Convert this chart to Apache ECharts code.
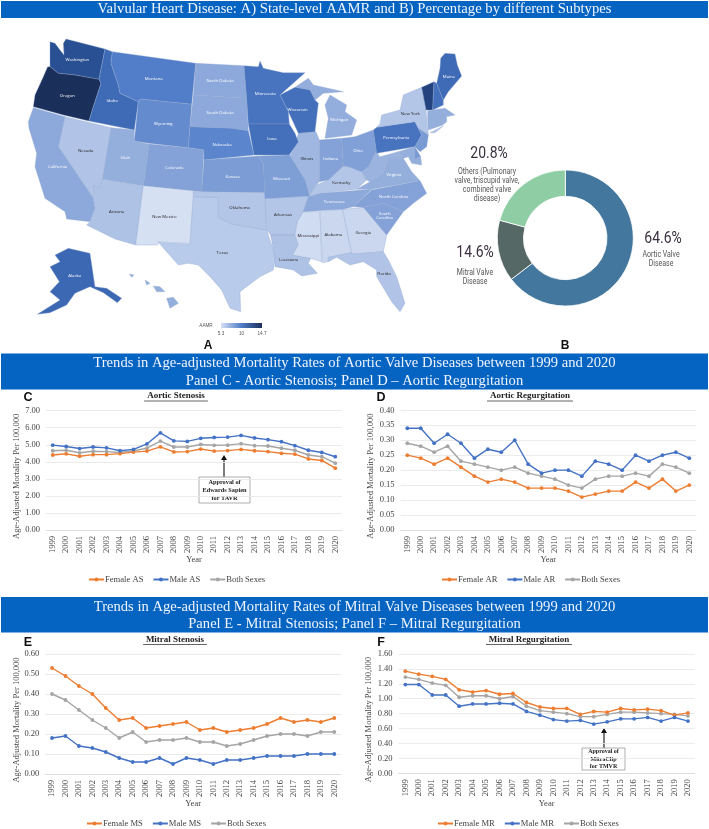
<!DOCTYPE html>
<html><head><meta charset="utf-8">
<script src="https://cdn.jsdelivr.net/npm/echarts@6/dist/echarts.min.js"></script>
<style>html,body{margin:0;padding:0;background:#fff}#c{width:709px;height:829px}</style>
</head><body><div id="c"></div>
<script>
const years = ['1999','2000','2001','2002','2003','2004','2005','2006','2007','2008','2009','2010','2011','2012','2013','2014','2015','2016','2017','2018','2019','2020'];
const femaleAS = [4.40,4.47,4.33,4.42,4.42,4.48,4.57,4.63,4.88,4.58,4.60,4.75,4.63,4.66,4.73,4.65,4.60,4.50,4.45,4.17,4.08,3.63];
const maleAS   = [4.98,4.90,4.78,4.87,4.82,4.65,4.73,5.05,5.70,5.23,5.20,5.38,5.43,5.45,5.55,5.40,5.30,5.18,4.95,4.68,4.55,4.30];
const bothAS   = [4.65,4.68,4.53,4.62,4.60,4.55,4.65,4.80,5.22,4.87,4.87,5.02,4.97,4.98,5.07,4.95,4.93,4.80,4.68,4.40,4.30,3.92];
const femaleAR = [.25,.24,.22,.24,.21,.18,.16,.17,.16,.14,.14,.14,.13,.11,.12,.13,.13,.16,.14,.17,.13,.15];
const maleAR   = [.34,.34,.29,.32,.29,.24,.27,.26,.30,.22,.19,.20,.20,.18,.23,.22,.20,.25,.23,.25,.26,.24];
const bothAR   = [.29,.28,.26,.28,.23,.22,.21,.20,.21,.19,.18,.17,.15,.14,.17,.18,.18,.19,.18,.22,.21,.19];
const femaleMS = [.53,.49,.44,.40,.33,.27,.28,.23,.24,.25,.26,.22,.23,.21,.22,.23,.25,.28,.26,.27,.26,.28];
const maleMS   = [.18,.19,.14,.13,.11,.08,.06,.06,.08,.05,.08,.07,.05,.07,.07,.08,.09,.09,.09,.10,.10,.10];
const bothMS   = [.40,.37,.32,.27,.23,.18,.21,.16,.17,.17,.18,.16,.16,.14,.15,.17,.19,.20,.20,.19,.21,.21];
const femaleMR = [1.37,1.33,1.30,1.26,1.12,1.09,1.11,1.06,1.07,.95,.89,.87,.87,.79,.83,.82,.87,.85,.86,.84,.78,.81];
const maleMR   = [1.19,1.19,1.05,1.05,.90,.93,.93,.94,.93,.83,.78,.72,.70,.71,.66,.69,.73,.73,.75,.70,.75,.70];
const bothMR   = [1.29,1.26,1.21,1.18,1.02,1.04,1.04,1.00,1.03,.90,.84,.82,.80,.76,.76,.79,.82,.82,.81,.80,.79,.77];
const subtypeNames = ['Aortic Valve Disease','Mitral Valve Disease','Others'];
const subtypeValues = [64.6,14.6,20.8];
const stateNames = ['Oregon','Vermont','Washington','Maine','Idaho','Alaska','Wisconsin','Iowa','Minnesota','Pennsylvania','New Hampshire','Montana','Wyoming','Nebraska','Kansas','Missouri','North Dakota','South Dakota','Michigan','Colorado','Utah','California','Indiana','Ohio','Illinois','North Carolina','South Carolina','Tennessee','Virginia','West Virginia','Kentucky','Nevada','Arizona','New Mexico','Texas','Oklahoma','Arkansas','Louisiana','Mississippi','Alabama','Georgia','Florida','New York','New Jersey','Maryland','Delaware','Massachusetts','Connecticut','Rhode Island','Hawaii'];
const stateValues = [14.7,13.6,12.9,11.2,11.2,11.4,10.9,10.9,10.6,10.6,10.8,9.9,9.3,9.6,8.5,8.4,7.9,7.9,7.7,8.2,7.6,7.9,8.2,8.3,7.2,8.2,8.2,7.9,7.6,7.4,6.5,6.6,6.7,5.3,6.3,6.5,6.5,6.7,5.5,5.7,5.7,6.6,6.5,8.6,7.6,8.6,7.6,7.6,7.6,7.6];
const unlabelled = ['Vermont','New Hampshire','West Virginia','New Jersey','Maryland','Delaware','Massachusetts','Connecticut','Rhode Island','Hawaii'];

// State outlines, traced; map-space rings and label anchor
const outlines = {
Washington:[[[[150,125],[165,130],[180,150],[192,165],[190,130],[198,117],[315,147],[297,238],[225,225],[175,220],[150,200]]],[232,180]],
Oregon:[[[[150,200],[175,220],[225,225],[297,238],[303,250],[280,320],[267,363],[190,345],[100,320],[105,285],[130,230],[143,200]]],[202,286]],
Idaho:[[[[315,147],[337,155],[333,190],[355,255],[360,280],[415,305],[403,390],[267,363],[280,320],[303,250],[297,238]]],[337,302]],
Montana:[[[[337,155],[587,190],[575,313],[420,297],[415,305],[360,280],[355,255],[333,190]]],[461,237]],
Wyoming:[[[[420,297],[575,313],[565,443],[447,430],[403,423],[415,305]]],[490,372]],
'North Dakota':[[[[587,190],[732,197],[740,295],[580,285]]],[660,243]],
'South Dakota':[[[[580,285],[740,295],[745,392],[695,385],[570,380]]],[660,339]],
Nebraska:[[[[570,380],[695,385],[745,392],[762,465],[612,480],[612,450],[565,443]]],[666,433]],
Kansas:[[[[612,480],[775,468],[790,490],[795,578],[605,575]]],[698,531]],
Colorado:[[[[447,432],[565,443],[612,450],[605,575],[430,557]]],[523,504]],
Utah:[[[[333,383],[403,390],[403,423],[447,432],[430,557],[307,537]]],[376,474]],
Nevada:[[[[195,350],[333,383],[307,537],[297,565],[282,555],[280,595],[175,440]]],[257,451]],
California:[[[[100,323],[195,350],[175,440],[280,595],[285,625],[270,665],[200,657],[195,635],[135,595],[105,500],[110,460],[87,385],[85,365]]],[173,501]],
Arizona:[[[[307,537],[430,557],[407,735],[345,717],[260,675],[270,665],[285,625],[280,595],[282,555],[297,565]]],[350,634]],
'New Mexico':[[[[430,557],[605,575],[580,590],[570,730],[475,725],[473,735],[407,735]]],[493,649]],
Texas:[[[[580,590],[655,592],[655,652],[695,672],[740,680],[800,690],[820,750],[825,780],[820,810],[780,830],[720,875],[722,935],[690,925],[665,870],[630,830],[595,795],[565,790],[535,795],[475,727],[570,732]]],[667,757]],
Oklahoma:[[[[580,575],[795,578],[798,640],[800,690],[740,680],[695,672],[655,652],[655,592],[580,590]]],[719,624]],
Arkansas:[[[[795,596],[928,588],[910,635],[892,665],[885,705],[812,705],[800,690],[798,640]]],[849,645]],
Louisiana:[[[[812,705],[885,705],[895,735],[878,765],[932,775],[925,790],[952,820],[905,828],[880,810],[825,800],[825,780],[820,750]]],[866,779]],
Mississippi:[[[[910,635],[960,635],[965,785],[932,775],[878,765],[895,735],[885,705],[892,665]]],[925,707]],
Alabama:[[[[960,635],[1028,628],[1055,758],[985,772],[985,785],[967,788],[965,785]]],[1000,703]],
Georgia:[[[[1028,628],[1090,622],[1160,705],[1150,755],[1060,762],[1055,758]]],[1090,698]],
Florida:[[[[985,772],[1055,758],[1060,762],[1150,755],[1165,780],[1190,830],[1215,910],[1200,935],[1175,905],[1130,830],[1130,810],[1090,785],[1050,795],[1010,772],[985,785]]],[1152,820]],
'South Carolina':[[[[1090,622],[1150,610],[1210,635],[1160,705]]],[1154,648]],
'North Carolina':[[[[1060,620],[1115,570],[1260,542],[1280,580],[1240,610],[1210,635],[1150,610],[1090,622]]],[1181,589]],
Tennessee:[[[[910,635],[925,590],[960,580],[1115,568],[1060,620],[1028,628]]],[1003,604]],
Kentucky:[[[[925,590],[948,555],[985,540],[1030,498],[1045,500],[1085,515],[1100,540],[1070,568],[960,580]]],[1024,547]],
Virginia:[[[[1070,568],[1110,545],[1150,520],[1165,475],[1210,475],[1235,515],[1260,542],[1115,568]]],[1182,525]],
'West Virginia':[[[[1085,515],[1105,500],[1128,455],[1140,470],[1160,465],[1195,455],[1210,475],[1165,475],[1150,520],[1110,545],[1100,540]]],[1130,510]],
Ohio:[[[[1025,415],[1065,410],[1120,390],[1130,460],[1128,455],[1105,500],[1085,515],[1045,500],[1030,498]]],[1074,451]],
Indiana:[[[[958,420],[1025,415],[1030,498],[985,540],[958,545]]],[992,475]],
Illinois:[[[[895,400],[948,395],[958,420],[958,545],[948,555],[925,590],[915,540],[868,470],[885,440]]],[921,476]],
Michigan:[[[[990,285],[1040,315],[1035,335],[1070,360],[1055,405],[975,415],[985,355],[975,315]],[[885,262],[925,235],[940,255],[1030,275],[970,280],[945,300],[930,270]]],[1018,360]],
Wisconsin:[[[[840,285],[885,262],[930,270],[945,300],[955,310],[945,395],[895,400],[865,335]]],[893,330]],
Minnesota:[[[[732,197],[775,200],[780,183],[790,205],[850,218],[915,218],[840,285],[865,335],[868,372],[745,372],[740,295]]],[796,282]],
Iowa:[[[[745,372],[868,372],[885,400],[895,425],[885,440],[868,465],[762,465]]],[816,417]],
Missouri:[[[[775,468],[868,465],[915,540],[928,588],[795,596],[790,490]]],[845,535]],
Pennsylvania:[[[[1120,390],[1130,382],[1245,365],[1265,405],[1245,440],[1130,460]]],[1189,414]],
'New York':[[[[1140,372],[1145,345],[1200,330],[1210,285],[1265,262],[1278,330],[1283,385],[1285,405],[1255,385],[1245,365],[1130,382]],[[1290,398],[1330,378],[1305,398]]],[1231,341]],
Vermont:[[[[1265,262],[1302,245],[1298,330],[1278,330]]],[1280,290]],
'New Hampshire':[[[[1302,245],[1310,250],[1330,300],[1330,315],[1298,330]]],[1310,285]],
Maine:[[[[1322,175],[1335,160],[1365,162],[1372,195],[1385,228],[1345,275],[1330,300],[1310,250],[1320,205]]],[1347,229]],
Massachusetts:[[[[1283,332],[1335,325],[1365,345],[1330,352],[1283,355]]],[1310,340]],
Connecticut:[[[[1283,355],[1325,348],[1328,375],[1285,390]]],[1305,370]],
'Rhode Island':[[[[1325,348],[1340,352],[1340,365],[1328,375]]],[1332,362]],
'New Jersey':[[[[1255,385],[1285,405],[1280,440],[1260,455],[1245,440],[1265,405]]],[1265,420]],
Delaware:[[[[1245,440],[1262,470],[1245,478]]],[1250,462]],
Maryland:[[[[1195,455],[1245,440],[1245,478],[1262,470],[1265,495],[1235,490],[1225,470],[1210,475]]],[1225,465]],
Alaska:[[[[205,745],[270,760],[285,860],[320,865],[365,895],[352,908],[310,878],[270,860],[225,880],[200,915],[150,938],[112,943],[180,900],[150,875],[178,845],[150,800],[180,785],[165,765]]],[224,826]],
Hawaii:[[[[500,895],[520,892],[535,910],[510,925]],[[435,840],[450,850],[440,855]],[[460,858],[480,860],[495,875],[470,875]],[[388,822],[402,825],[395,832]]],[500,905]]
};
const features = Object.keys(outlines).map(n=>({type:'Feature',properties:{name:n,cp:[outlines[n][1][0],-outlines[n][1][1]]},
  geometry:{type:'MultiPolygon',coordinates:outlines[n][0].map(r=>[r.concat([r[0]]).map(p=>[p[0],-p[1]])])}}));
echarts.registerMap('usa',{type:'FeatureCollection',features});
const SCALE=1/3, bb={x0:85,x1:1385,y0:117,y1:943};

const blue='#0563c1', serif='"Liberation Serif","Times New Roman",serif', sans='"Liberation Sans",Arial,sans-serif', narrow='Roboto,sans-serif';
const panels=[
 {name:'Aortic Stenosis',tag:'AS',max:7,step:1,dec:2,f:femaleAS,m:maleAS,b:bothAS,left:46,right:342,top:410.7,bot:530,cx:176,ty:396,letter:'C',lx:28,ly:398,nameX:17,yearY:560,legY:581,legL:88},
 {name:'Aortic Regurgitation',tag:'AR',max:.4,step:.05,dec:2,f:femaleAR,m:maleAR,b:bothAR,left:400.6,right:696,top:410.3,bot:530,cx:530,ty:396,letter:'D',lx:381,ly:398,nameX:371,yearY:560,legY:581,legL:441},
 {name:'Mitral Stenosis',tag:'MS',max:.6,step:.1,dec:2,f:femaleMS,m:maleMS,b:bothMS,left:45.3,right:341,top:654,bot:774,cx:175,ty:639.5,letter:'E',lx:28,ly:643,nameX:17,yearY:804,legY:825,legL:86},
 {name:'Mitral Regurgitation',tag:'MR',max:1.6,step:.2,dec:2,f:femaleMR,m:maleMR,b:bothMR,left:398.6,right:694.7,top:654,bot:773.3,cx:529,ty:639.5,letter:'F',lx:381,ly:643,nameX:369,yearY:804,legY:825,legL:437}
];
const W=709;
const grid=[],xAxis=[],yAxis=[],series=[],legend=[],graphic=[];
function lbl(text,x,y,size,opt,extra){graphic.push(Object.assign({type:'text',x,y,silent:true,style:Object.assign({text,fontSize:size,fontFamily:serif,fill:'#444',align:'center',verticalAlign:'middle'},opt||{})},extra||{}));}
panels.forEach((p,i)=>{
 grid.push({left:p.left,width:p.right-p.left,top:p.top,height:p.bot-p.top});
 xAxis.push({gridIndex:i,type:'category',data:years,axisTick:{show:false},axisLine:{lineStyle:{color:'#d9d9d9',width:.8}},
   axisLabel:{rotate:90,interval:0,fontFamily:serif,fontSize:8.5,color:'#444',margin:6}});
 yAxis.push({gridIndex:i,type:'value',min:0,max:p.max,interval:p.step,axisLine:{show:false},axisTick:{show:false},
   splitLine:{lineStyle:{color:'#e6e6e6',width:.8}},
   axisLabel:{fontFamily:serif,fontSize:8.5,color:'#444',margin:6,formatter:v=>v.toFixed(p.dec)}});
 const names=['Female '+p.tag,'Male '+p.tag,'Both Sexes'];
 [[names[0],p.f,'#ed7d31'],[names[1],p.m,'#4472c4'],[names[2],p.b,'#a5a5a5']].forEach(s=>{
   series.push({type:'line',name:s[0],xAxisIndex:i,yAxisIndex:i,data:s[1],z:s[2]==='#a5a5a5'?2:3,symbol:'circle',symbolSize:3.8,showSymbol:true,
     lineStyle:{color:s[2],width:1.4},itemStyle:{color:s[2]},silent:true,animation:false});
 });
 legend.push({data:names,left:p.legL,top:p.legY-6,itemWidth:15,itemHeight:5,itemGap:9,selectedMode:false,
   textStyle:{fontFamily:serif,fontSize:8.6,color:'#444',padding:[0,0,0,-4]},padding:0});
 lbl(p.name,p.cx,p.ty,9,{fontWeight:'bold',fill:'#222'});
 const tw=p.name.length*4.05+ (p.tag[1]==='R'?5:3);
 graphic.push({type:'line',silent:true,shape:{x1:p.cx-tw/2,y1:p.ty+5,x2:p.cx+tw/2,y2:p.ty+5},style:{stroke:'#222',lineWidth:.7}});
 lbl('Age-Adjusted Mortality Per 100,000',p.nameX,(p.top+p.bot)/2+6,8.5,{},{rotation:Math.PI/2});
 lbl('Year',(p.left+p.right)/2,p.yearY,8.5,{});
 lbl(p.letter,p.lx,p.ly,12.5,{fontFamily:sans,fontWeight:'bold',fill:'#111'});
});
function bar(y,h,lines,sizes){graphic.push({type:'rect',silent:true,z:-1,shape:{x:1,y,width:W-2,height:h},style:{fill:blue}});
 lines.forEach((t,i)=>lbl(t,354.5,y+(h/lines.length)*(i+.5)+(lines.length>1?1:0),sizes,{fill:'#eef4fb'}));}
bar(1,17,['Valvular Heart Disease: A) State-level AAMR and B) Percentage by different Subtypes'],14.7);
bar(353.5,36,['Trends in Age-adjusted Mortality Rates of Aortic Valve Diseases between 1999 and 2020','Panel C - Aortic Stenosis; Panel D – Aortic Regurgitation'],14.6);
bar(597,35.5,['Trends in Age-adjusted Mortality Rates of Mitral Valve Diseases between 1999 and 2020','Panel E - Mitral Stenosis; Panel F – Mitral Regurgitation'],14.6);
lbl('A',208,346,12,{fontFamily:sans,fontWeight:'bold',fill:'#111'});
lbl('B',565,346,12,{fontFamily:sans,fontWeight:'bold',fill:'#111'});
function note(ax,y1,y2,bx0,bx1,by0,by1,txt,fs,lh){
 graphic.push({type:'line',silent:true,shape:{x1:ax,y1,x2:ax,y2:y2+3},style:{stroke:'#111',lineWidth:1.1}});
 graphic.push({type:'polygon',silent:true,shape:{points:[[ax,y2],[ax-3,y2+5],[ax+3,y2+5]]},style:{fill:'#111'}});
 graphic.push({type:'rect',silent:true,shape:{x:bx0,y:by0,width:bx1-bx0,height:by1-by0},style:{fill:'#fff',stroke:'#999',lineWidth:.8}});
 lbl(txt,(bx0+bx1)/2,(by0+by1)/2,fs,{fontWeight:'bold',fill:'#222',lineHeight:lh});
}
note(224,477,455,199,250,477,503,'Approval of\nEdwards Sapien\nfor TAVR',6.3,8);
note(604,748,728,582,625,748,770,'Approval of\nMitraClip\nfor TMVR',6,7.4);
const ink='#3a3040', ink2='#555', sq={scaleX:.82};
lbl('64.6%',663,239,17,{fontFamily:narrow,fill:ink},sq);
lbl('Aortic Valve\nDisease',661,259.5,8.5,{fontFamily:narrow,fill:ink2,lineHeight:9.3},sq);
lbl('14.6%',475,253,17,{fontFamily:narrow,fill:ink},sq);
lbl('Mitral Valve\nDisease',475,277.5,8.5,{fontFamily:narrow,fill:ink2,lineHeight:9.3},sq);
lbl('20.8%',489,154,17,{fontFamily:narrow,fill:ink},sq);
lbl('Others (Pulmonary\nvalve, triscupid valve,\ncombined valve\ndisease)',487,185.5,8.5,{fontFamily:narrow,fill:ink2,lineHeight:9},sq);
graphic.push({type:'rect',silent:true,shape:{x:221,y:323,width:41,height:5},style:{fill:new echarts.graphic.LinearGradient(0,0,1,0,[{offset:0,color:'#d5e0f3'},{offset:.5,color:'#4f7cc8'},{offset:1,color:'#1b2f5b'}])}});
lbl('AAMR',206,325.5,4.6,{fontFamily:sans,fill:'#555'});
lbl('5.3',221,334,4.6,{fontFamily:sans,fill:'#555'});
lbl('10',241.5,334,4.6,{fontFamily:sans,fill:'#555'});
lbl('14.7',262,334,4.6,{fontFamily:sans,fill:'#555'});

series.push({type:'map',map:'usa',aspectScale:1,roam:false,silent:true,animation:false,showLegendSymbol:false,
 left:bb.x0*SCALE,top:bb.y0*SCALE,width:(bb.x1-bb.x0)*SCALE,height:(bb.y1-bb.y0)*SCALE,
 itemStyle:{borderColor:'#8fa6cf',borderWidth:.35},
 label:{show:true,fontFamily:'"Open Sans",Arial,sans-serif',fontSize:4.3,color:'#fff'},
 data:stateNames.map((n,i)=>({name:n,value:stateValues[i],
   label:{show:!unlabelled.includes(n),color:stateValues[i]<7.3?'#222':'#fff',formatter:n==='South Carolina'?'South\nCarolina':n}}))
});
series.push({type:'pie',center:[565.3,238],radius:[41.7,68],startAngle:90,clockwise:true,silent:true,animation:false,label:{show:false},labelLine:{show:false},
 itemStyle:{borderColor:'#fff',borderWidth:.8},
 data:subtypeNames.map((n,i)=>({name:n,value:subtypeValues[i],itemStyle:{color:['#44779d','#566865','#8fcea5'][i]}}))});

const chart=echarts.init(document.getElementById('c'),null,{renderer:'canvas'});
chart.setOption({backgroundColor:'#fff',animation:false,grid,xAxis,yAxis,legend,series,graphic:{elements:graphic},
 visualMap:{show:false,type:'continuous',min:5.3,max:14.7,seriesIndex:12,inRange:{color:['#d5e0f3','#94aedd','#4f7cc8','#2f5aa5','#1b2f5b']}}});
</script></body></html>
